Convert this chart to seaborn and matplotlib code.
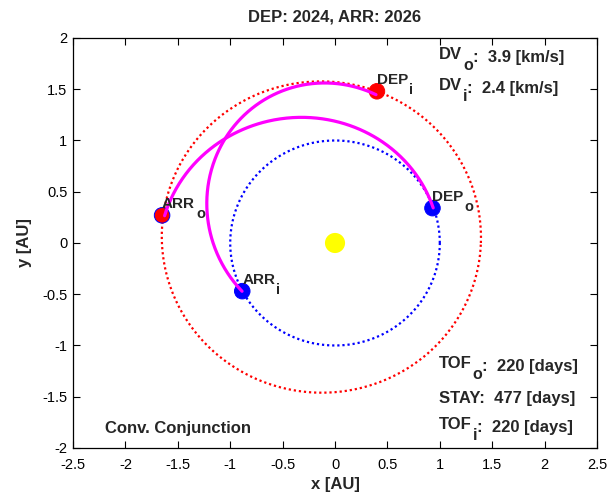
import numpy as np
import pandas as pd
import seaborn as sns
import matplotlib.pyplot as plt

# orbit parameters (AU)
earth_radius = 1.0
mars_a = 1.524
mars_e = 0.0934
mars_peri_deg = 336.0

# mission events (AU)
event_main = ['DEP', 'ARR', 'DEP', 'ARR']
event_sub = ['o', 'o', 'i', 'i']
event_x = [0.93, -1.65, 0.40, -0.885]
event_y = [0.34, 0.27, 1.48, -0.47]
event_colors = ['#0000ff', '#ff0000', '#ff0000', '#0000ff']
event_edges = ['#0000ff', '#0000ff', '#ff0000', '#0000ff']

# transfer arcs, points
out_x = [0.93, 0.55, -0.33, -1.20, -1.65]
out_y = [0.34, 0.93, 1.22, 0.88, 0.27]
in_x = [0.40, -0.05, -0.70, -1.15, -1.21, -0.885]
in_y = [1.48, 1.52, 1.34, 0.95, 0.42, -0.47]

x_ticks = [-2.5, -2, -1.5, -1, -0.5, 0, 0.5, 1, 1.5, 2, 2.5]
x_tick_labels = ['-2.5', '-2', '-1.5', '-1', '-0.5', '0', '0.5', '1', '1.5', '2', '2.5']
y_ticks = [-2, -1.5, -1, -0.5, 0, 0.5, 1, 1.5, 2]
y_tick_labels = ['-2', '-1.5', '-1', '-0.5', '0', '0.5', '1', '1.5', '2']

# info text: (main, subscript, rest, y)
info_lines = [
    ('DV', 'o', ':  3.9 [km/s]', 1.795),
    ('DV', 'i', ':  2.4 [km/s]', 1.493),
    ('TOF', 'o', ':  220 [days]', -1.22),
    ('STAY:  477 [days]', '', '', -1.561),
    ('TOF', 'i', ':  220 [days]', -1.815),
]

sns.set_style('ticks')
plt.rcParams['font.family'] = ['Liberation Sans', 'DejaVu Sans']


def orbit_points(a, e, peri_deg):
    th = np.linspace(0, 2 * np.pi, 721)
    r = a * (1 - e ** 2) / (1 + e * np.cos(th - np.radians(peri_deg)))
    return r * np.cos(th), r * np.sin(th)


def conic_arc(xs, ys):
    # fit 1/r = A + B cos(th) + C sin(th) (sun at focus) through the read points
    xs, ys = np.array(xs), np.array(ys)
    th = np.unwrap(np.arctan2(ys, xs))
    r = np.hypot(xs, ys)
    m = np.column_stack([np.ones_like(th), np.cos(th), np.sin(th)])
    coef = np.linalg.lstsq(m, 1 / r, rcond=None)[0]
    t = np.linspace(th[0], th[-1], 300)
    rr = 1 / (coef[0] + coef[1] * np.cos(t) + coef[2] * np.sin(t))
    return rr * np.cos(t), rr * np.sin(t)


def sub_text(ax, xy, main, sub, rest, size, sub_size, drop, coords='data', offset=(0, 0)):
    # matlab style subscript: nearly full size, dropped below the baseline
    kw = dict(fontsize=size, fontweight='bold', va='baseline', ha='left', zorder=6)
    t1 = ax.annotate(main, xy, xycoords=coords, xytext=offset,
                     textcoords='offset pixels', **kw)
    if not sub:
        return t1
    kw_sub = dict(kw, fontsize=sub_size)
    t2 = ax.annotate(sub, (1, 0), xycoords=t1, xytext=(1, -drop),
                     textcoords='offset pixels', **kw_sub)
    if rest:
        ax.annotate(rest, (1, 0), xycoords=(t2, t1), xytext=(0, 0),
                    textcoords='offset pixels', **kw)
    return t1


fig = plt.figure(figsize=(6.11, 4.96), dpi=100)
ax = fig.add_axes([0.1195, 0.0968, 0.8576, 0.8266])

ex, ey = orbit_points(earth_radius, 0.0, 0.0)
mx, my = orbit_points(mars_a, mars_e, mars_peri_deg)
sns.lineplot(x=ex, y=ey, sort=False, estimator=None, color='#0000ff', lw=1.6,
             linestyle=(0, (1, 1.3)), ax=ax)
sns.lineplot(x=mx, y=my, sort=False, estimator=None, color='#ff0000', lw=1.6,
             linestyle=(0, (1, 1.3)), ax=ax)

sns.scatterplot(x=[0.0], y=[0.0], color='#ffff00', s=210, edgecolor='none', ax=ax)

events = pd.DataFrame({'x': event_x, 'y': event_y})
sns.scatterplot(data=events, x='x', y='y', c=event_colors, s=125,
                edgecolor=event_edges, linewidth=0.7, legend=False, ax=ax, zorder=3)

ox, oy = conic_arc(out_x, out_y)
ix, iy = conic_arc(in_x, in_y)
for cx, cy in [(ox, oy), (ix, iy)]:
    sns.lineplot(x=cx, y=cy, sort=False, estimator=None, color='#ff00ff',
                 lw=2.3, ax=ax)
    ax.lines[-1].set_zorder(4)

for main, sub, x, y in zip(event_main, event_sub, event_x, event_y):
    sub_text(ax, (x, y), main, sub, '', 11, 10.5, 7, offset=(0, 7))

for main, sub, rest, y in info_lines:
    sub_text(ax, (0.99, y), main, sub, rest, 12, 11.5, 8)
ax.text(-2.195, -1.854, 'Conv. Conjunction', fontsize=12, fontweight='bold',
        va='baseline', ha='left')

ax.set_xlim(-2.5, 2.5)
ax.set_ylim(-2, 2)
ax.set_xticks(x_ticks)
ax.set_xticklabels(x_tick_labels)
ax.set_yticks(y_ticks)
ax.set_yticklabels(y_tick_labels)
ax.tick_params(direction='in', top=True, right=True, length=5, width=0.8,
               labelsize=10.5, colors='black')
ax.tick_params(axis='x', pad=7)
ax.tick_params(axis='y', pad=4)
for sp in ax.spines.values():
    sp.set_color('black')
    sp.set_linewidth(0.9)

ax.set_title('DEP: 2024, ARR: 2026', fontsize=12, fontweight='bold', pad=12)
ax.set_xlabel('x [AU]', fontsize=12, fontweight='bold', labelpad=4)
ax.set_ylabel('y [AU]', fontsize=12, fontweight='bold', labelpad=7)

fig.savefig('out.png', dpi=100)
